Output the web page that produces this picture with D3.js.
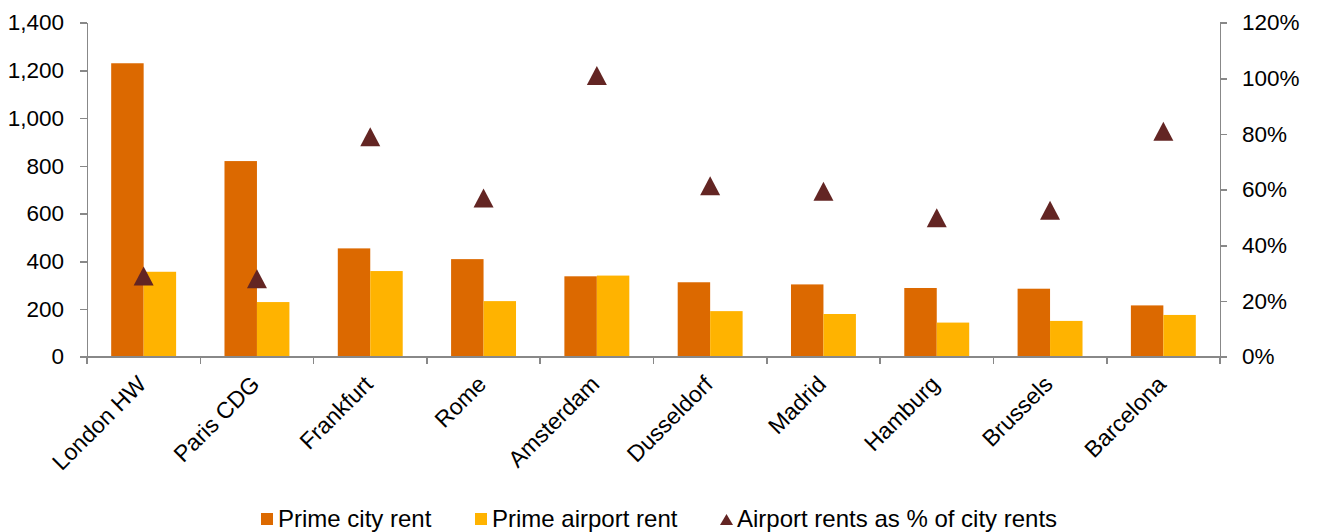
<!DOCTYPE html>
<html>
<head>
<meta charset="utf-8">
<script src="https://cdn.jsdelivr.net/npm/d3@7"></script>
<style>
  html, body { margin: 0; padding: 0; background: #ffffff; }
  svg { display: block; font-family: "Liberation Sans", Arial, sans-serif; }
  .axis path, .axis line { stroke: #888888; stroke-width: 1.6; shape-rendering: crispEdges; }
  .axis text { fill: #000000; font-size: 22.5px; }
  .axis text.cat { font-size: 23px; }
</style>
</head>
<body>
<svg id="chart" width="1318" height="532"></svg>
<script>
// Airport-area prime office rents compared with prime city-centre rents
const categories = ["London HW", "Paris CDG", "Frankfurt", "Rome", "Amsterdam",
                    "Dusseldorf", "Madrid", "Hamburg", "Brussels", "Barcelona"];
const primeCityRent    = [1230, 820, 454, 409, 337, 312, 303, 288, 285, 215];
const primeAirportRent = [356, 229, 359, 233, 340, 191, 179, 143, 150, 175];
const airportPctOfCity = [0.29, 0.28, 0.79, 0.57, 1.01, 0.614, 0.594, 0.499, 0.526, 0.81];

const leftTicks  = [0, 200, 400, 600, 800, 1000, 1200, 1400];
const rightTicks = [0, 0.2, 0.4, 0.6, 0.8, 1.0, 1.2];

const seriesNames = ["Prime city rent", "Prime airport rent", "Airport rents as % of city rents"];
const colors = { city: "#DC6900", airport: "#FFB300", pct: "#632523" };

const svg = d3.select("#chart");
const plot = { left: 87, right: 1220, top: 22.7, bottom: 356.7 };

const x0 = d3.scaleBand().domain(categories).range([plot.left, plot.right]).paddingInner(0).paddingOuter(0);
const x1 = d3.scaleBand().domain(["city", "airport"]).range([0, x0.bandwidth()])
  .paddingInner(0).paddingOuter(0.745);
const yL = d3.scaleLinear().domain([0, 1400]).range([plot.bottom, plot.top]);
const yR = d3.scaleLinear().domain([0, 1.2]).range([plot.bottom, plot.top]);

// Bars
const rows = categories.map((c, i) => ({
  cat: c, city: primeCityRent[i], airport: primeAirportRent[i], pct: airportPctOfCity[i]
}));

const groups = svg.append("g").selectAll("g").data(rows).join("g")
  .attr("transform", d => `translate(${x0(d.cat)},0)`);

groups.selectAll("rect")
  .data(d => [{ k: "city", v: d.city }, { k: "airport", v: d.airport }])
  .join("rect")
  .attr("x", d => x1(d.k))
  .attr("width", x1.bandwidth())
  .attr("y", d => yL(d.v))
  .attr("height", d => yL(0) - yL(d.v))
  .attr("fill", d => colors[d.k]);

// Left value axis
svg.append("g").attr("class", "axis")
  .attr("transform", `translate(${plot.left},0)`)
  .call(d3.axisLeft(yL).tickValues(leftTicks).tickFormat(d3.format(",")).tickSize(7).tickSizeOuter(0).tickPadding(16));

// Right percentage axis
svg.append("g").attr("class", "axis")
  .attr("transform", `translate(${plot.right},0)`)
  .call(d3.axisRight(yR).tickValues(rightTicks).tickFormat(d3.format(".0%")).tickSize(7).tickSizeOuter(0).tickPadding(15));

// Category axis: ticks on band boundaries, rotated labels
const boundaries = categories.map(c => x0(c)).concat([plot.right]);
const gX = svg.append("g").attr("class", "axis");
gX.append("line")
  .attr("x1", plot.left).attr("x2", plot.right)
  .attr("y1", plot.bottom).attr("y2", plot.bottom);
gX.selectAll("line.tick").data(boundaries).join("line")
  .attr("class", "tick")
  .attr("x1", d => d).attr("x2", d => d)
  .attr("y1", plot.bottom).attr("y2", plot.bottom + 7);
gX.selectAll("text").data(categories).join("text")
  .attr("class", "cat")
  .attr("text-anchor", "end")
  .attr("transform", d => `translate(${x0(d) + x0.bandwidth() / 2 + 4},${plot.bottom + 29}) rotate(-45)`)
  .text(d => d);

// Triangle markers (percentage series)
function trianglePath(cx, cy, w, h) {
  const p = d3.path();
  p.moveTo(cx, cy - h / 2);
  p.lineTo(cx + w / 2, cy + h / 2);
  p.lineTo(cx - w / 2, cy + h / 2);
  p.closePath();
  return p.toString();
}
svg.append("g").selectAll("path").data(rows).join("path")
  .attr("d", d => trianglePath(x0(d.cat) + x0.bandwidth() / 2, yR(d.pct), 20, 19))
  .attr("fill", colors.pct);

// Legend
const legend = svg.append("g").style("font-size", "24px");
const legendItems = [
  { name: seriesNames[0], key: "city", x: 261, shape: "square" },
  { name: seriesNames[1], key: "airport", x: 475, shape: "square" },
  { name: seriesNames[2], key: "pct", x: 720, shape: "triangle" }
];
legendItems.forEach(it => {
  if (it.shape === "square") {
    legend.append("rect").attr("x", it.x).attr("y", 513).attr("width", 12).attr("height", 12)
      .attr("fill", colors[it.key]);
  } else {
    legend.append("path").attr("d", trianglePath(it.x + 6.5, 519.5, 13, 11)).attr("fill", colors[it.key]);
  }
  legend.append("text").attr("x", it.x + 17).attr("y", 527).attr("fill", "#000").text(it.name);
});
</script>
</body>
</html>
